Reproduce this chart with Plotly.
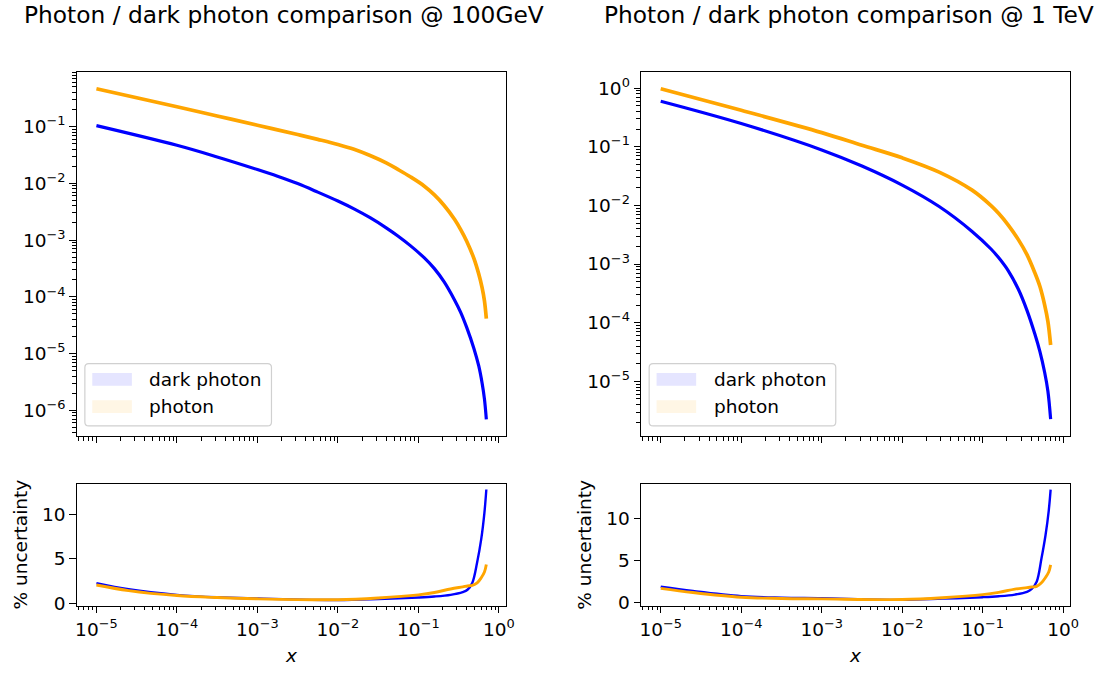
import plotly.graph_objects as go

W, H = 1099, 675

# ---------------- data ----------------
X_TOP_100 = [1e-5, 1e-4, 3.16e-4, 1e-3, 1.778e-3, 3.16e-3, 5.62e-3, 1e-2,
             1.585e-2, 2.51e-2, 3.98e-2, 5.56e-2, 7.94e-2, 0.1186, 0.158,
             0.209, 0.282, 0.334, 0.398, 0.489, 0.562, 0.618, 0.661, 0.698]
PHOTON_100 = [0.4656, 0.2234, 0.1538, 0.1059, 0.08770, 0.07244, 0.05957,
              0.04842, 0.03981, 0.03090, 0.02291, 0.01758, 0.01303, 0.008913,
              0.006252, 0.004074, 0.002307, 0.001545, 0.000955, 0.0004753,
              0.0002512, 0.0001445, 8.51e-5, 4.11e-5]
DARK_100 = [0.1040, 0.04677, 0.02917, 0.01750, 0.01334, 0.009886, 0.006998,
            0.004870, 0.003544, 0.002475, 0.001643, 0.001180, 0.000798,
            0.0004842, 0.0003133, 0.0001828, 8.71e-5, 5.37e-5, 2.884e-5,
            1.230e-5, 6.03e-6, 3.02e-6, 1.585e-6, 6.92e-7]

X_TOP_1T = [1e-5, 1e-4, 1e-3, 3.16e-3, 1e-2, 0.02877, 0.07379, 0.1259, 0.1574,
            0.2089, 0.2773, 0.3548, 0.4436, 0.5129, 0.5888, 0.6457, 0.6982]
PHOTON_1T = [0.9750, 0.4169, 0.1738, 0.1059, 0.06457, 0.03690, 0.01816, 0.01,
             0.007328, 0.004571, 0.002606, 0.001445, 0.0007129, 0.0004169,
             0.0001995, 0.0001047, 4.17e-5]
DARK_1T = [0.5957, 0.2483, 0.08810, 0.04677, 0.02213, 0.009550, 0.003597,
           0.001820, 0.001288, 0.0007586, 0.0003715, 0.0001622, 6.457e-5,
           3.236e-5, 1.413e-5, 6.76e-6, 2.26e-6]

X_UNC = [1e-5, 2.51e-5, 1e-4, 3.16e-4, 1e-3, 1e-2, 3.16e-2, 0.1, 0.158,
         0.251, 0.355, 0.407, 0.468, 0.537, 0.603, 0.661, 0.698]

UNC_DARK_100 = [2.25, 1.56, 0.93, 0.65, 0.52, 0.34, 0.45, 0.63, 0.74, 0.93,
                1.24, 1.5, 2.3, 4.6, 7.2, 10.2, 12.8]
UNC_PHOTON_100 = [2.04, 1.41, 0.85, 0.62, 0.48, 0.38, 0.575, 0.93, 1.19, 1.59,
                  1.83, 1.93, 2.0, 2.28, 2.85, 3.5, 4.35]
UNC_DARK_1T = [1.9, 1.4, 0.8, 0.62, 0.55, 0.36, 0.5, 0.67, 0.78, 0.98,
               1.3, 1.65, 2.5, 5.25, 8.0, 10.9, 13.4]
UNC_PHOTON_1T = [1.72, 1.22, 0.66, 0.52, 0.47, 0.39, 0.6, 0.97, 1.24, 1.63,
                 1.8, 1.88, 1.95, 2.38, 3.0, 3.65, 4.5]

TITLES = ["Photon / dark photon comparison @ 100GeV",
          "Photon / dark photon comparison @ 1 TeV"]
SERIES_NAMES = ["dark photon", "photon"]
X_TICKS = [1e-5, 1e-4, 1e-3, 1e-2, 1e-1, 1e0]
X_TICK_TEXT = ["10<sup>−5</sup>", "10<sup>−4</sup>", "10<sup>−3</sup>",
               "10<sup>−2</sup>", "10<sup>−1</sup>", "10<sup>0</sup>"]
Y_TICKS_L = [1e-6, 1e-5, 1e-4, 1e-3, 1e-2, 1e-1]
Y_TICK_TEXT_L = ["10<sup>−6</sup>", "10<sup>−5</sup>", "10<sup>−4</sup>",
                 "10<sup>−3</sup>", "10<sup>−2</sup>", "10<sup>−1</sup>"]
Y_TICKS_R = [1e-5, 1e-4, 1e-3, 1e-2, 1e-1, 1e0]
Y_TICK_TEXT_R = ["10<sup>−5</sup>", "10<sup>−4</sup>", "10<sup>−3</sup>",
                 "10<sup>−2</sup>", "10<sup>−1</sup>", "10<sup>0</sup>"]
UNC_TICKS = [0, 5, 10]

BLUE = "#0000ff"
ORANGE = "#ffa500"
FONT = "DejaVu Sans"
TICK_SIZE = 18.5


def fx(px):
    return px / W


def fy(py):
    return 1 - py / H


# panel geometry (pixels)
LEFT = (75.7, 509.0)
RIGHT = (645.7, 1079.0)
TOP = (73.0, 441.0)
BOT = (490.0, 613.0)


def minor_vals(lo, hi):
    vals = []
    for d in range(lo, hi):
        for k in range(2, 10):
            vals.append(k * 10.0 ** d)
    return vals


fig = go.Figure()

panels = [
    ("x", "y", X_TOP_100, DARK_100, X_TOP_100, PHOTON_100, 3.2),
    ("x2", "y2", X_UNC, UNC_DARK_100, X_UNC, UNC_PHOTON_100, 2.4),
    ("x3", "y3", X_TOP_1T, DARK_1T, X_TOP_1T, PHOTON_1T, 3.2),
    ("x4", "y4", X_UNC, UNC_DARK_1T, X_UNC, UNC_PHOTON_1T, 2.4),
]
for xa, ya, xd, yd, xp, yp, lw in panels:
    fig.add_trace(go.Scatter(x=xd, y=yd, mode="lines", xaxis=xa, yaxis=ya,
                             line=dict(color=BLUE, width=lw, shape="spline",
                                       smoothing=1.0),
                             name=SERIES_NAMES[0], showlegend=False))
    fig.add_trace(go.Scatter(x=xp, y=yp, mode="lines", xaxis=xa, yaxis=ya,
                             line=dict(color=ORANGE, width=lw + 0.5,
                                       shape="spline", smoothing=1.0),
                             name=SERIES_NAMES[1], showlegend=False))

XRANGE = [-5.242, 0.087]
axis_common = dict(showline=True, linecolor="black", linewidth=1.3,
                   mirror=True, ticks="outside", ticklen=6.5, tickwidth=1.3,
                   tickcolor="black", showgrid=False, zeroline=False,
                   tickfont=dict(family=FONT, size=TICK_SIZE, color="black"))

xminor = dict(tickmode="array", tickvals=minor_vals(-6, 0), ticks="outside",
              ticklen=3.6, tickwidth=1, tickcolor="black", showgrid=False)


def xaxis(dom, anchor, labels):
    return dict(axis_common, type="log", range=XRANGE,
                domain=[fx(dom[0]), fx(dom[1])], anchor=anchor,
                tickmode="array", tickvals=X_TICKS, ticktext=X_TICK_TEXT,
                showticklabels=labels, minor=xminor)


def ylog(dom, anchor, rng, tv, tt):
    return dict(axis_common, type="log", range=rng,
                domain=[fy(dom[1]), fy(dom[0])], anchor=anchor,
                tickmode="array", tickvals=tv, ticktext=tt,
                minor=dict(tickmode="array", tickvals=minor_vals(-7, 1),
                           ticks="outside", ticklen=3.6, tickwidth=1,
                           tickcolor="black", showgrid=False))


def ylin(dom, anchor, rng):
    return dict(axis_common, type="linear", range=rng,
                domain=[fy(dom[1]), fy(dom[0])], anchor=anchor,
                tickmode="array", tickvals=UNC_TICKS)


fig.update_layout(
    width=W, height=H,
    margin=dict(l=0, r=0, t=0, b=0),
    paper_bgcolor="white", plot_bgcolor="white",
    showlegend=False,
    font=dict(family=FONT, color="black"),
    xaxis=xaxis(LEFT, "y", False),
    yaxis=ylog(TOP, "x", [-6.45, -0.04], Y_TICKS_L, Y_TICK_TEXT_L),
    xaxis2=xaxis(LEFT, "y2", True),
    yaxis2=ylin(BOT, "x2", [-0.3, 13.4]),
    xaxis3=xaxis(RIGHT, "y3", False),
    yaxis3=ylog(TOP, "x3", [-5.928, 0.271], Y_TICKS_R, Y_TICK_TEXT_R),
    xaxis4=xaxis(RIGHT, "y4", True),
    yaxis4=ylin(BOT, "x4", [-0.34, 14.05]),
)

annotations = []
shapes = []
for i, (x0, x1) in enumerate([LEFT, RIGHT]):
    # title
    annotations.append(dict(text=TITLES[i], xref="paper", yref="paper",
                            x=fx((x0 + x1) / 2 - 7), y=fy(15),
                            xanchor="center", yanchor="middle",
                            showarrow=False,
                            font=dict(family=FONT, size=23.3, color="black")))
    # x label
    annotations.append(dict(text="<i>x</i>", xref="paper", yref="paper",
                            x=fx((x0 + x1) / 2), y=fy(663),
                            xanchor="center", yanchor="middle",
                            showarrow=False,
                            font=dict(family=FONT, size=TICK_SIZE,
                                      color="black")))
    # y label of uncertainty panel
    annotations.append(dict(text="% uncertainty", xref="paper", yref="paper",
                            x=fx(x0 - 57.5), y=fy(551), textangle=-90,
                            xanchor="center", yanchor="middle",
                            showarrow=False,
                            font=dict(family=FONT, size=TICK_SIZE,
                                      color="black")))
    # legend box (rounded)
    bx0, bx1 = x0 + 8, x0 + 196.5
    by0, by1 = 368.0, 431.0
    r = 4
    path = (f"M {fx(bx0 + r)},{fy(by0)} L {fx(bx1 - r)},{fy(by0)} "
            f"Q {fx(bx1)},{fy(by0)} {fx(bx1)},{fy(by0 + r)} "
            f"L {fx(bx1)},{fy(by1 - r)} "
            f"Q {fx(bx1)},{fy(by1)} {fx(bx1 - r)},{fy(by1)} "
            f"L {fx(bx0 + r)},{fy(by1)} "
            f"Q {fx(bx0)},{fy(by1)} {fx(bx0)},{fy(by1 - r)} "
            f"L {fx(bx0)},{fy(by0 + r)} "
            f"Q {fx(bx0)},{fy(by0)} {fx(bx0 + r)},{fy(by0)} Z")
    shapes.append(dict(type="path", path=path, xref="paper", yref="paper",
                       fillcolor="rgba(255,255,255,0.8)",
                       line=dict(color="#d0d0d0", width=1.2), layer="above"))
    for j, (col, yc) in enumerate([("#e5e5ff", 384.0), ("#fff6e5", 411.5)]):
        shapes.append(dict(type="rect", xref="paper", yref="paper",
                           x0=fx(x0 + 15.5), x1=fx(x0 + 55.5),
                           y0=fy(yc - 6.5), y1=fy(yc + 6.5),
                           fillcolor=col, line=dict(width=0), layer="above"))
        annotations.append(dict(text=SERIES_NAMES[j], xref="paper",
                                yref="paper", x=fx(x0 + 71), y=fy(yc),
                                xanchor="left", yanchor="middle",
                                showarrow=False,
                                font=dict(family=FONT, size=TICK_SIZE,
                                          color="black")))

fig.update_layout(annotations=annotations, shapes=shapes)

fig.write_html("out.html")
